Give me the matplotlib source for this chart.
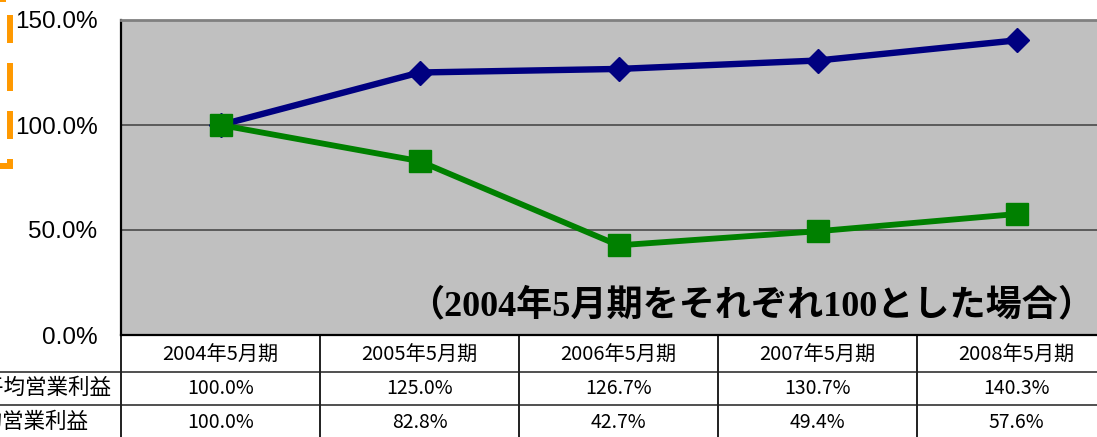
import matplotlib
matplotlib.use("Agg")
import matplotlib.pyplot as plt
from matplotlib.lines import Line2D
from matplotlib.transforms import IdentityTransform

# データ (2004年5月期 = 100%)
periods = ["2004年5月期", "2005年5月期", "2006年5月期", "2007年5月期", "2008年5月期"]
avg_profit = [100.0, 125.0, 126.7, 130.7, 140.3]
own_profit = [100.0, 82.8, 42.7, 49.4, 57.6]
row_labels = ["業界平均営業利益", "当社平均営業利益"]
yticks = [0, 50, 100, 150]

W, H = 1097, 437
TICK_FONT = ["Liberation Sans", "Noto Sans CJK JP"]
TABLE_FONT = ["Noto Sans CJK JP", "DejaVu Sans"]

plt.rcParams["lines.scale_dashes"] = False

fig = plt.figure(figsize=(W / 100, H / 100), dpi=100)
ax = fig.add_axes([121 / W, (H - 335) / H, 995 / W, 315 / H])
ax.set_facecolor("#c0c0c0")

x = list(range(len(periods)))
ax.plot(x, avg_profit, color="#000080", lw=4.6, marker="D", ms=12, zorder=3)
ax.plot(x, own_profit, color="#008000", lw=4.2, marker="s", ms=16, zorder=4)

ax.set_xlim(-0.5, len(periods) - 0.5)
ax.set_ylim(0, 150)
ax.set_yticks(yticks)
ax.set_yticklabels([f"{v:.1f}%" for v in yticks], family=TICK_FONT, fontsize=17.5)
ax.set_xticks([])
ax.tick_params(axis="y", length=0, pad=17)
for v in yticks[1:-1]:
    ax.axhline(v, color="#404040", lw=1.1, zorder=1)

ax.spines["top"].set_color("#808080")
ax.spines["top"].set_linewidth(2)
ax.spines["left"].set_linewidth(1.6)
ax.spines["bottom"].set_linewidth(1.6)
ax.spines["right"].set_visible(False)

ax.text(0.633, 0.092, "（2004年5月期をそれぞれ100とした場合）",
        transform=ax.transAxes, ha="center", va="center", fontsize=26,
        fontweight="bold", family=["Liberation Serif", "Noto Sans CJK JP"])

# 下のデータ表
tr = ax.get_xaxis_transform()
row_edges = [-37 / 315, -70 / 315, -103 / 315]
for yb in row_edges[:2]:
    ax.plot([-3, len(periods)], [yb, yb], color="#202020", lw=1.1,
            transform=tr, clip_on=False)
for i in range(len(periods) + 1):
    ax.plot([i - 0.5, i - 0.5], [0, row_edges[-1]], color="#202020", lw=1.4,
            transform=tr, clip_on=False)

text_y = [-20 / 315, -53 / 315, -87 / 315]
for i, p in enumerate(periods):
    ax.text(i, text_y[0], p, transform=tr, ha="center", va="center",
            fontsize=14.5, family=TABLE_FONT, clip_on=False)
    ax.text(i, text_y[1], f"{avg_profit[i]:.1f}%", transform=tr, ha="center",
            va="center", fontsize=14, family=TABLE_FONT, clip_on=False)
    ax.text(i, text_y[2], f"{own_profit[i]:.1f}%", transform=tr, ha="center",
            va="center", fontsize=14, family=TABLE_FONT, clip_on=False)

fig.text(111 / W, (H - 388) / H, row_labels[0], ha="right", va="center",
         fontsize=15.5, family=TABLE_FONT)
fig.text(89 / W, (H - 422) / H, row_labels[1], ha="right", va="center",
         fontsize=15.5, family=TABLE_FONT)

# 左端のオレンジ破線枠 (一部)
frame = Line2D([0, 10, 10, -100], [H + 1, H + 1, H - 166, H - 166],
               transform=IdentityTransform(), color="#ff9900", lw=4.3,
               solid_joinstyle="miter", dash_joinstyle="miter",
               linestyle=(15.84, (20.16, 14.4)))
fig.add_artist(frame)

fig.savefig("out.png", dpi=100)
